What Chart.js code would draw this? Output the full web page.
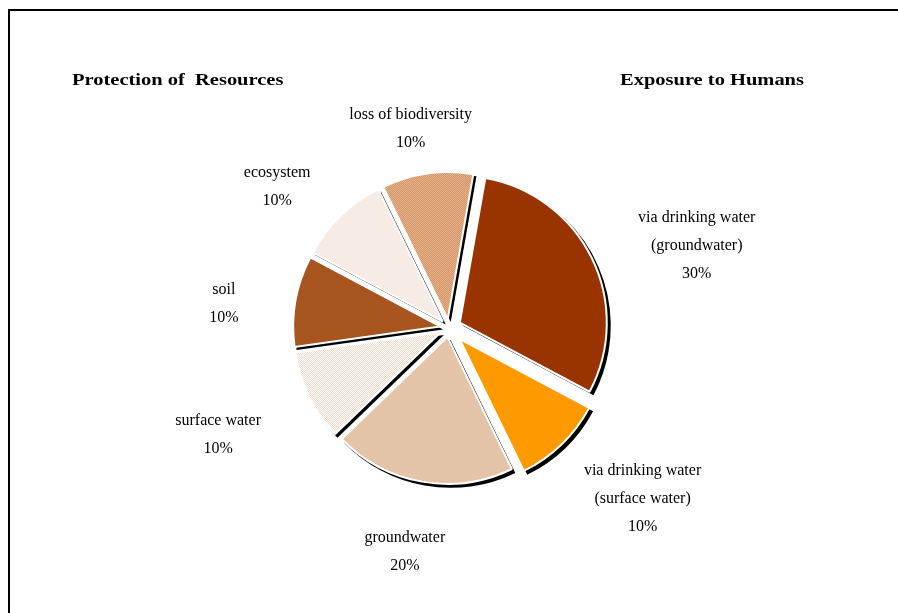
<!DOCTYPE html>
<html><head><meta charset="utf-8">
<script src="https://cdn.jsdelivr.net/npm/chart.js@4/dist/chart.umd.min.js"></script>
<style>
html,body{margin:0;padding:0;background:#fff;overflow:hidden;}
canvas{display:block;}
</style></head><body>
<canvas id="c" width="898" height="613"></canvas>
<script>
// ---- data ----
const categories = ['via drinking water (groundwater)', 'via drinking water (surface water)', 'groundwater', 'surface water', 'soil', 'ecosystem', 'loss of biodiversity'];
const labelLines = [['via drinking water', '(groundwater)'], ['via drinking water', '(surface water)'], ['groundwater'], ['surface water'], ['soil'], ['ecosystem'], ['loss of biodiversity']];
const shares = [30, 10, 20, 10, 10, 10, 10];
const groupTitles = ['Protection of  Resources', 'Exposure to Humans'];

// ---- styles ----
const explode = [12, 15, 9, 9, 9, 9, 9];
const SERIF = '"Liberation Serif", "Times New Roman", serif';

const canvas = document.getElementById('c');
const ctx0 = canvas.getContext('2d');
function pat(c1, c2) {
  const cv = document.createElement('canvas');
  cv.width = 2; cv.height = 2;
  const g = cv.getContext('2d');
  g.fillStyle = c1; g.fillRect(0, 0, 2, 2);
  g.fillStyle = c2; g.fillRect(0, 0, 1, 1); g.fillRect(1, 1, 1, 1);
  return ctx0.createPattern(cv, 'repeat');
}
const fills = [
  '#993300',
  '#FF9900',
  pat('#D4A37A', '#F6E6D7'),
  pat('#F0D9C8', '#FFFFFF'),
  pat('#993300', '#B87840'),
  pat('#EEDACB', '#FFFFFF'),
  pat('#CC8050', '#EEC8A4')
];

function shift(arc, i) {
  const mid = (arc.startAngle + arc.endAngle) / 2;
  const e = explode[i] || 0;
  return [Math.cos(mid) * e, Math.sin(mid) * e];
}

const drawPlugin = {
  id: 'excelPie',
  beforeDraw(chart) {
    const c = chart.ctx;
    c.save();
    c.fillStyle = '#fff';
    c.fillRect(0, 0, chart.width, chart.height);
    c.fillStyle = '#000';
    c.fillRect(8, 9, 2, chart.height);
    c.fillRect(8, 9, chart.width, 2);
    c.restore();
  },
  beforeDatasetDraw(chart, args) {
    const c = chart.ctx;
    args.meta.data.forEach((arc, i) => {
      const p = arc.getProps(['x', 'y', 'startAngle', 'endAngle', 'outerRadius'], true);
      const [dx, dy] = shift(p, i);
      c.save();
      c.fillStyle = '#000';
      c.beginPath();
      c.moveTo(p.x + dx + 3, p.y + dy + 3);
      c.arc(p.x + dx + 3, p.y + dy + 3, p.outerRadius + 1, p.startAngle, p.endAngle);
      c.closePath();
      c.fill();
      c.translate(dx, dy);
      arc.draw(c, chart.chartArea);
      c.restore();
    });
    return false;
  },
  afterDraw(chart) {
    const c = chart.ctx;
    const meta = chart.getDatasetMeta(0);
    const total = shares.reduce((a, b) => a + b, 0);
    c.save();
    c.fillStyle = '#000';
    c.textAlign = 'center';
    c.textBaseline = 'middle';
    c.font = '16px ' + SERIF;
    const lh = 28;
    meta.data.forEach((arc, i) => {
      const p = arc.getProps(['x', 'y', 'startAngle', 'endAngle', 'outerRadius'], true);
      const [dx, dy] = shift(p, i);
      const mid = (p.startAngle + p.endAngle) / 2;
      const lines = labelLines[i].concat([Math.round(shares[i] / total * 100) + '%']);
      const w = Math.max(...lines.map(t => c.measureText(t).width));
      const R = p.outerRadius + 58;
      const ux = Math.cos(mid), uy = Math.sin(mid);
      const cx = p.x + dx + ux * R + ux * w / 2;
      const cy = p.y + dy + uy * R + 13;
      lines.forEach((t, k) => {
        c.fillText(t, cx, cy + (k - (lines.length - 1) / 2) * lh);
      });
    });
    c.font = 'bold 16px ' + SERIF;
    c.textAlign = 'left';
    [[groupTitles[0], 72], [groupTitles[1], 620]].forEach(([t, x]) => {
      c.save();
      c.translate(x, 81);
      c.scale(1.28, 1);
      c.fillText(t, 0, 0);
      c.restore();
    });
    c.restore();
  }
};

new Chart(canvas, {
  type: 'pie',
  data: {
    labels: categories,
    datasets: [{
      data: shares,
      backgroundColor: fills,
      borderColor: '#ffffff',
      borderWidth: 2
    }]
  },
  options: {
    responsive: false,
    animation: false,
    rotation: 10,
    layout: { padding: { left: 301, right: 301, top: 180, bottom: 137 } },
    plugins: { legend: { display: false }, tooltip: { enabled: false }, title: { display: false } }
  },
  plugins: [drawPlugin]
});
</script>
</body></html>
